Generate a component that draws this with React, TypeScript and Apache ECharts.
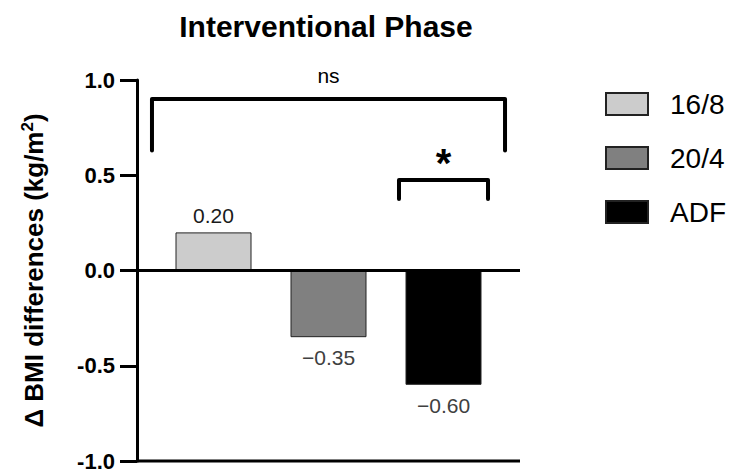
import React, { useEffect, useRef } from "react";
import * as echarts from "echarts";

const categories = ["16/8", "20/4", "ADF"];
const values = [0.2, -0.35, -0.6];
const valueLabels = ["0.20", "\u22120.35", "\u22120.60"];
const barColors = ["#cccccc", "#808080", "#000000"];
const labelColors = ["#1a1a1a", "#404040", "#404040"];

const yMin = -1;
const yMax = 1;
const yInterval = 0.5;

const hLineValues = [0, -1];

const bracketLabels = ["ns", "*"];
const bracketFrom = [0, 2];
const bracketTo = [2, 2];
const bracketTop = [0.9, 0.475];
const bracketFoot = [0.63, 0.375];
const bracketSpread = [0.535, 0.387];

const FONT = "'Liberation Sans', Arial, Helvetica, sans-serif";
const AXIS_OFFSET = 19;

export default function App() {
  const ref = useRef<HTMLDivElement>(null);

  useEffect(() => {
    if (!ref.current) return;
    const chart = echarts.init(ref.current, undefined, { renderer: "svg" });

    const barSeries = categories.map((name, i) => ({
      type: "bar",
      name,
      stack: "all",
      barWidth: 76,
      data: categories.map((_, j) => (j === i ? values[i] : "-")),
      itemStyle: { color: barColors[i], borderColor: "#222", borderWidth: 1 },
      label: {
        show: true,
        position: values[i] >= 0 ? "top" : "bottom",
        distance: values[i] >= 0 ? 6 : 10,
        formatter: () => valueLabels[i],
        fontFamily: FONT,
        fontSize: 21,
        color: labelColors[i],
      },
      z: 2,
    }));

    const option: any = {
      animation: false,
      textStyle: { fontFamily: FONT },
      grid: { left: 156, right: 234, top: 80, bottom: 7, containLabel: false },
      legend: {
        data: categories,
        orient: "vertical",
        left: 600,
        top: 83,
        itemWidth: 42,
        itemHeight: 22,
        itemGap: 22,
        icon: "rect",
        textStyle: {
          fontFamily: FONT,
          fontSize: 28,
          lineHeight: 32,
          color: "#000",
          padding: [0, 0, 0, 17],
        },
      },
      xAxis: {
        type: "category",
        data: categories,
        axisLine: { show: false },
        axisTick: { show: false },
        axisLabel: { show: false },
        splitLine: { show: false },
      },
      yAxis: {
        type: "value",
        min: yMin,
        max: yMax,
        interval: yInterval,
        offset: AXIS_OFFSET,
        axisLine: { show: true, lineStyle: { color: "#000", width: 3 } },
        axisTick: { show: true, inside: false, length: 17, lineStyle: { color: "#000", width: 3 } },
        axisLabel: {
          formatter: (v: number) => v.toFixed(1),
          fontFamily: FONT,
          fontWeight: "bold",
          fontSize: 22,
          color: "#000",
          margin: 22,
        },
        splitLine: { show: false },
        name: "\u0394 BMI differences (kg/m{sup|2})",
        nameLocation: "middle",
        nameGap: 89,
        nameTextStyle: {
          fontFamily: FONT,
          fontWeight: "bold",
          fontSize: 26,
          color: "#000",
          rich: {
            sup: {
              fontFamily: FONT,
              fontWeight: "bold",
              fontSize: 17,
              color: "#000",
              verticalAlign: "top",
              padding: [0, 0, 12, 0],
            },
          },
        },
      },
      graphic: [
        {
          type: "text",
          x: 326,
          y: 26,
          style: {
            text: "Interventional Phase",
            textAlign: "center",
            textVerticalAlign: "middle",
            fontFamily: FONT,
            fontWeight: "bold",
            fontSize: 30,
            fill: "#000",
          },
        },
      ],
      series: [
        ...barSeries,
        {
          type: "custom",
          name: "lines",
          clip: false,
          z: 5,
          data: hLineValues.map((v) => [0, v]),
          renderItem: (params: any, api: any) => {
            const y = api.coord([0, api.value(1)])[1];
            const cs = params.coordSys;
            return {
              type: "line",
              shape: { x1: cs.x - AXIS_OFFSET, y1: y, x2: cs.x + cs.width + AXIS_OFFSET, y2: y },
              style: { stroke: "#000", lineWidth: 3 },
            };
          },
        },
        {
          type: "custom",
          name: "brackets",
          clip: false,
          z: 5,
          data: bracketFrom.map((f, i) => [f, bracketTop[i]]),
          renderItem: (params: any, api: any) => {
            const i = params.dataIndex;
            const band = api.size([1, 0])[0];
            const xL = api.coord([bracketFrom[i], 0])[0] - bracketSpread[i] * band;
            const xR = api.coord([bracketTo[i], 0])[0] + bracketSpread[i] * band;
            const yT = api.coord([0, bracketTop[i]])[1];
            const yF = api.coord([0, bracketFoot[i]])[1];
            const isStar = bracketLabels[i] === "*";
            return {
              type: "group",
              children: [
                {
                  type: "polyline",
                  shape: { points: [[xL, yF], [xL, yT], [xR, yT], [xR, yF]] },
                  style: { stroke: "#000", lineWidth: 4, fill: null, lineCap: "round", lineJoin: "round" },
                },
                {
                  type: "text",
                  x: (xL + xR) / 2,
                  y: isStar ? yT - 17 : yT - 24,
                  style: {
                    text: bracketLabels[i],
                    textAlign: "center",
                    textVerticalAlign: "middle",
                    fontFamily: FONT,
                    fontWeight: isStar ? "bold" : "normal",
                    fontSize: isStar ? 40 : 21,
                    fill: "#000",
                  },
                },
              ],
            };
          },
        },
      ],
    };

    chart.setOption(option);
    return () => chart.dispose();
  }, []);

  return (
    <div
      ref={ref}
      style={{ position: "fixed", left: 0, top: 0, width: 735, height: 472, background: "#fff" }}
    />
  );
}
